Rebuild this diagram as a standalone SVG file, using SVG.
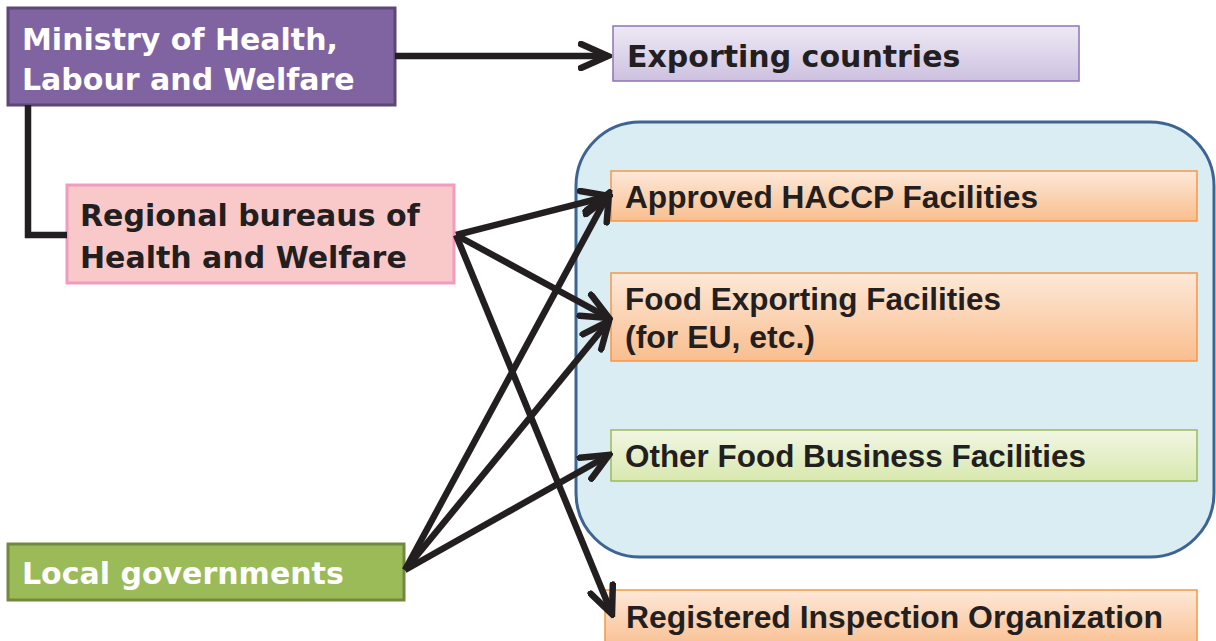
<svg xmlns="http://www.w3.org/2000/svg" width="1216" height="641" viewBox="0 0 1216 641">
<defs>
<linearGradient id="gPurple" x1="0" y1="0" x2="0" y2="1"><stop offset="0" stop-color="#eee9f5"/><stop offset="1" stop-color="#cdc1df"/></linearGradient>
<linearGradient id="gOrange" x1="0" y1="0" x2="0" y2="1"><stop offset="0" stop-color="#fde8d8"/><stop offset="1" stop-color="#f9be8e"/></linearGradient>
<linearGradient id="gGreen" x1="0" y1="0" x2="0" y2="1"><stop offset="0" stop-color="#f2f6e3"/><stop offset="1" stop-color="#d8e8ae"/></linearGradient>
<marker id="arr" markerUnits="userSpaceOnUse" viewBox="0 0 34 30" markerWidth="34" markerHeight="30" refX="30" refY="15" orient="auto">
<path d="M3,3 L30,15 L3,27" fill="none" stroke="#231f20" stroke-width="6.5" stroke-linecap="round" stroke-linejoin="miter"/>
</marker>
<style>
.wide{font-family:"DejaVu Sans",Verdana,sans-serif;font-weight:bold;font-size:30px}
.narrow{font-family:"Liberation Sans",Arial,sans-serif;font-weight:bold;font-size:32px;fill:#231f20}
.conn{fill:none;stroke:#231f20;stroke-width:6.5}
</style>
</defs>
<g id="container"><rect x="576" y="122" width="638" height="435" rx="64" fill="#daedf3" stroke="#3c6494" stroke-width="3"/></g>
<g id="ministry"><rect x="8" y="8" width="387" height="97" fill="#8064a2" stroke="#5c4776" stroke-width="3"/>
<text class="wide" fill="#ffffff" x="22" y="50">Ministry of Health,</text>
<text class="wide" fill="#ffffff" x="22" y="90">Labour and Welfare</text></g>
<g id="exporting"><rect x="613" y="26" width="466" height="55" fill="url(#gPurple)" stroke="#8e74b4" stroke-width="1.5"/>
<text class="wide" fill="#231f20" x="627" y="67">Exporting countries</text></g>
<g id="regional"><rect x="67" y="185" width="387" height="98" fill="#f9c9ca" stroke="#f29bc1" stroke-width="3"/>
<text class="wide" fill="#231f20" x="80" y="226">Regional bureaus of</text>
<text class="wide" fill="#231f20" x="80" y="268">Health and Welfare</text></g>
<g id="local"><rect x="8" y="544" width="396" height="56" fill="#9bbb59" stroke="#71893f" stroke-width="3"/>
<text class="wide" fill="#ffffff" x="22" y="584">Local governments</text></g>
<g id="haccp"><rect x="611" y="171" width="586" height="50" fill="url(#gOrange)" stroke="#f79646" stroke-width="1.5"/>
<text class="narrow" x="625" y="208" textLength="413" lengthAdjust="spacingAndGlyphs">Approved HACCP Facilities</text></g>
<g id="foodexp"><rect x="611" y="273" width="586" height="88" fill="url(#gOrange)" stroke="#f79646" stroke-width="1.5"/>
<text class="narrow" x="625" y="310" textLength="376" lengthAdjust="spacingAndGlyphs">Food Exporting Facilities</text>
<text class="narrow" x="625" y="348" textLength="190" lengthAdjust="spacingAndGlyphs">(for EU, etc.)</text></g>
<g id="other"><rect x="611" y="430" width="586" height="51" fill="url(#gGreen)" stroke="#9bbb59" stroke-width="1.5"/>
<text class="narrow" x="625" y="467" textLength="461" lengthAdjust="spacingAndGlyphs">Other Food Business Facilities</text></g>
<g id="registered"><rect x="605" y="590" width="592" height="60" fill="url(#gOrange)" stroke="#f79646" stroke-width="1.5"/>
<text class="narrow" x="626" y="628" textLength="537" lengthAdjust="spacingAndGlyphs">Registered Inspection Organization</text></g>
<g id="connectors">
<path class="conn" d="M28,105 V235 H67"/>
<line class="conn" x1="395" y1="56" x2="608" y2="56" marker-end="url(#arr)"/>
<line class="conn" x1="456" y1="235" x2="609" y2="196" marker-end="url(#arr)"/>
<line class="conn" x1="456" y1="235" x2="609" y2="318" marker-end="url(#arr)"/>
<line class="conn" x1="456" y1="235" x2="612" y2="614" marker-end="url(#arr)"/>
<line class="conn" x1="405" y1="570" x2="609" y2="193" marker-end="url(#arr)"/>
<line class="conn" x1="405" y1="570" x2="609" y2="321" marker-end="url(#arr)"/>
<line class="conn" x1="405" y1="570" x2="609" y2="455" marker-end="url(#arr)"/>
</g>
</svg>
